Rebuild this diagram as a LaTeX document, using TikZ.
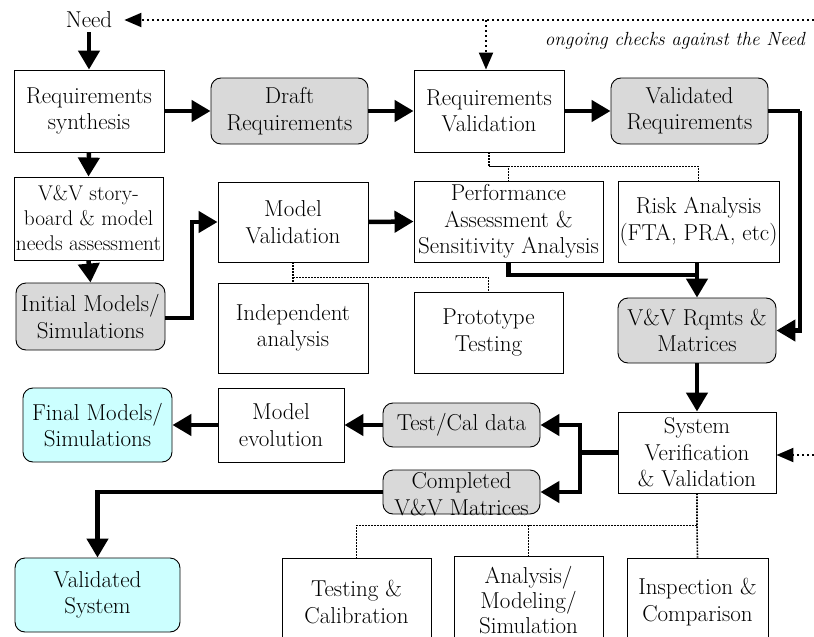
\documentclass[tikz,border=0pt]{standalone}
\usetikzlibrary{arrows.meta,calc}
\definecolor{boxgray}{HTML}{D9D9D9}
\definecolor{boxcyan}{HTML}{CCFFFF}

\begin{document}
\begin{tikzpicture}[x=1pt,y=-1pt,
  txt/.style={font=\fontsize{23}{26.5}\selectfont, align=center, inner sep=0pt},
  box/.style={txt, draw, line width=0.9pt, fill=white},
  rbox/.style={box, rounded corners=10pt, fill=boxgray},
  cbox/.style={box, rounded corners=10pt, fill=boxcyan},
  flowline/.style={line width=4.5pt},
  flow/.style={flowline, -{Triangle[length=19pt,width=21pt]}},
  chk/.style={line width=2pt, dash pattern=on 2pt off 3pt},
  chkarrow/.style={chk, -{Triangle[length=17pt,width=14pt]}},
  link/.style={line width=1.6pt, dash pattern=on 1.6pt off 1.4pt},
]
\useasboundingbox (0,0) rectangle (814,637);
\clip (0,0) rectangle (814,637);

% ---- top row ----
\node[txt, inner sep=4pt] (need) at (89,20) {Need};
\node[anchor=base east, inner sep=0pt, font=\fontsize{19}{24}\selectfont\itshape] (note) at (805,45) {ongoing checks against the Need};

\node[box, minimum width=150pt, minimum height=82pt] (synth) at (89,111) {Requirements\\synthesis};
\node[rbox, minimum width=157pt, minimum height=66pt] (draft) at (289.5,111) {Draft\\Requirements};
\node[box, minimum width=150pt, minimum height=82pt] (reqval) at (489,111) {Requirements\\Validation};
\node[rbox, minimum width=157pt, minimum height=66pt] (valreq) at (689.5,111) {Validated\\Requirements};

% ---- modelling branch ----
\node[box, minimum width=149pt, minimum height=83pt, font=\fontsize{21.3}{25}\selectfont] (story) at (88.5,218.5) {V\&V story-\\board \& model\\needs assessment};
\node[rbox, minimum width=149pt, minimum height=67pt] (init) at (90.5,316.5) {Initial Models/\\Simulations};
\node[box, minimum width=150pt, minimum height=80pt] (modval) at (293,222) {Model\\Validation};
\node[box, minimum width=189pt, minimum height=81pt] (perf) at (508.5,221.5) {Performance\\Assessment \&\\Sensitivity Analysis};
\node[box, minimum width=161pt, minimum height=81pt] (risk) at (698.5,221.5) {Risk Analysis\\(FTA, PRA, etc)};
\node[box, minimum width=150pt, minimum height=90pt] (indep) at (293,328) {Independent\\analysis};
\node[box, minimum width=149pt, minimum height=81pt] (proto) at (488.5,332.5) {Prototype\\Testing};
\node[rbox, minimum width=158pt, minimum height=65pt] (vvr) at (697,330.5) {V\&V Rqmts \&\\Matrices};

% ---- verification and outputs ----
\node[cbox, minimum width=149pt, minimum height=74pt] (final) at (97.5,425) {Final Models/\\Simulations};
\node[box, minimum width=126pt, minimum height=74pt] (modevo) at (281,425) {Model\\evolution};
\node[rbox, minimum width=157pt, minimum height=44pt] (testcal) at (461.5,425) {Test/Cal data};
\node[rbox, minimum width=157pt, minimum height=44pt] (compl) at (461.5,492) {};
\node[txt] (compltext) at (461.5,494) {Completed\\V\&V Matrices};
\node[box, minimum width=158pt, minimum height=81pt] (sysvv) at (697,452.5) {System\\Verification\\\& Validation};
\node[cbox, minimum width=165pt, minimum height=74pt] (valsys) at (97.5,595) {Validated\\System};

\node[box, minimum width=149pt, minimum height=88pt] (testing) at (356.5,602) {Testing \&\\Calibration};
\node[box, minimum width=149pt, minimum height=88pt, font=\fontsize{23}{25}\selectfont] (analysis) at (528.5,600) {Analysis/\\Modeling/\\Simulation};
\node[box, minimum width=141pt, minimum height=88pt] (inspect) at (697.5,602) {Inspection \&\\Comparison};

% ---- helper points ----
\coordinate (topedge) at (814,20);
\coordinate (tap) at (486,20);
\coordinate (sideedge) at (814,455);
\coordinate (rail) at (800,111);
\coordinate (merge) at (697,275);
\coordinate (bend) at (192,318);
\coordinate (split) at (580,452.5);

% ---- ongoing checks against the need ----
\draw[chkarrow] (topedge) -- ([xshift=8pt]need.east);
\draw[chkarrow] (tap) -- (tap |- reqval.north);
\draw[chkarrow] (sideedge) -- (sideedge -| sysvv.east);

% ---- main flow ----
\draw[flow] (need.south) -- (synth.north);
\draw[flow] (synth.east) -- (draft.west);
\draw[flow] (draft.east) -- (reqval.west);
\draw[flow] (reqval.east) -- (valreq.west);
\draw[flow] (synth.south) -- (story.north);
\draw[flow] (story.south) -- (init.north);
\draw[flow] (init.east |- bend) -- (bend) |- (modval.west);
\draw[flow] (modval.east) -- (perf.west);
\draw[flowline] (valreq.east) -- (rail);
\draw[flow] (rail) |- (vvr.east);
\draw[flowline] (perf.south) |- (merge);
\draw[flow] (risk.south -| vvr.north) -- (vvr.north);
\draw[flow] (vvr.south) -- (sysvv.north);
\draw[flowline] (sysvv.west) -- (split);
\draw[flow] (split) |- (testcal.east);
\draw[flow] (split) |- (compl.east);
\draw[flow] (testcal.west) -- (modevo.east);
\draw[flow] (modevo.west) -- (final.east);
\draw[flow] (compl.west) -| (valsys.north);

% ---- supporting activities ----
\draw[link] (reqval.south) -- ++(0,14) coordinate (rv) -| (risk.north);
\draw[link] (rv) -| (perf.north);
\draw[link] (modval.south) -- (indep.north);
\draw[link] (modval.south) ++(0,15) -| (proto.north);
\draw[link] (sysvv.south) -- ++(0,32) coordinate (sv) -- (inspect.north);
\draw[link] (sv) -| (testing.north);
\draw[link] (sv) -| (analysis.north);
\end{tikzpicture}
\end{document}
